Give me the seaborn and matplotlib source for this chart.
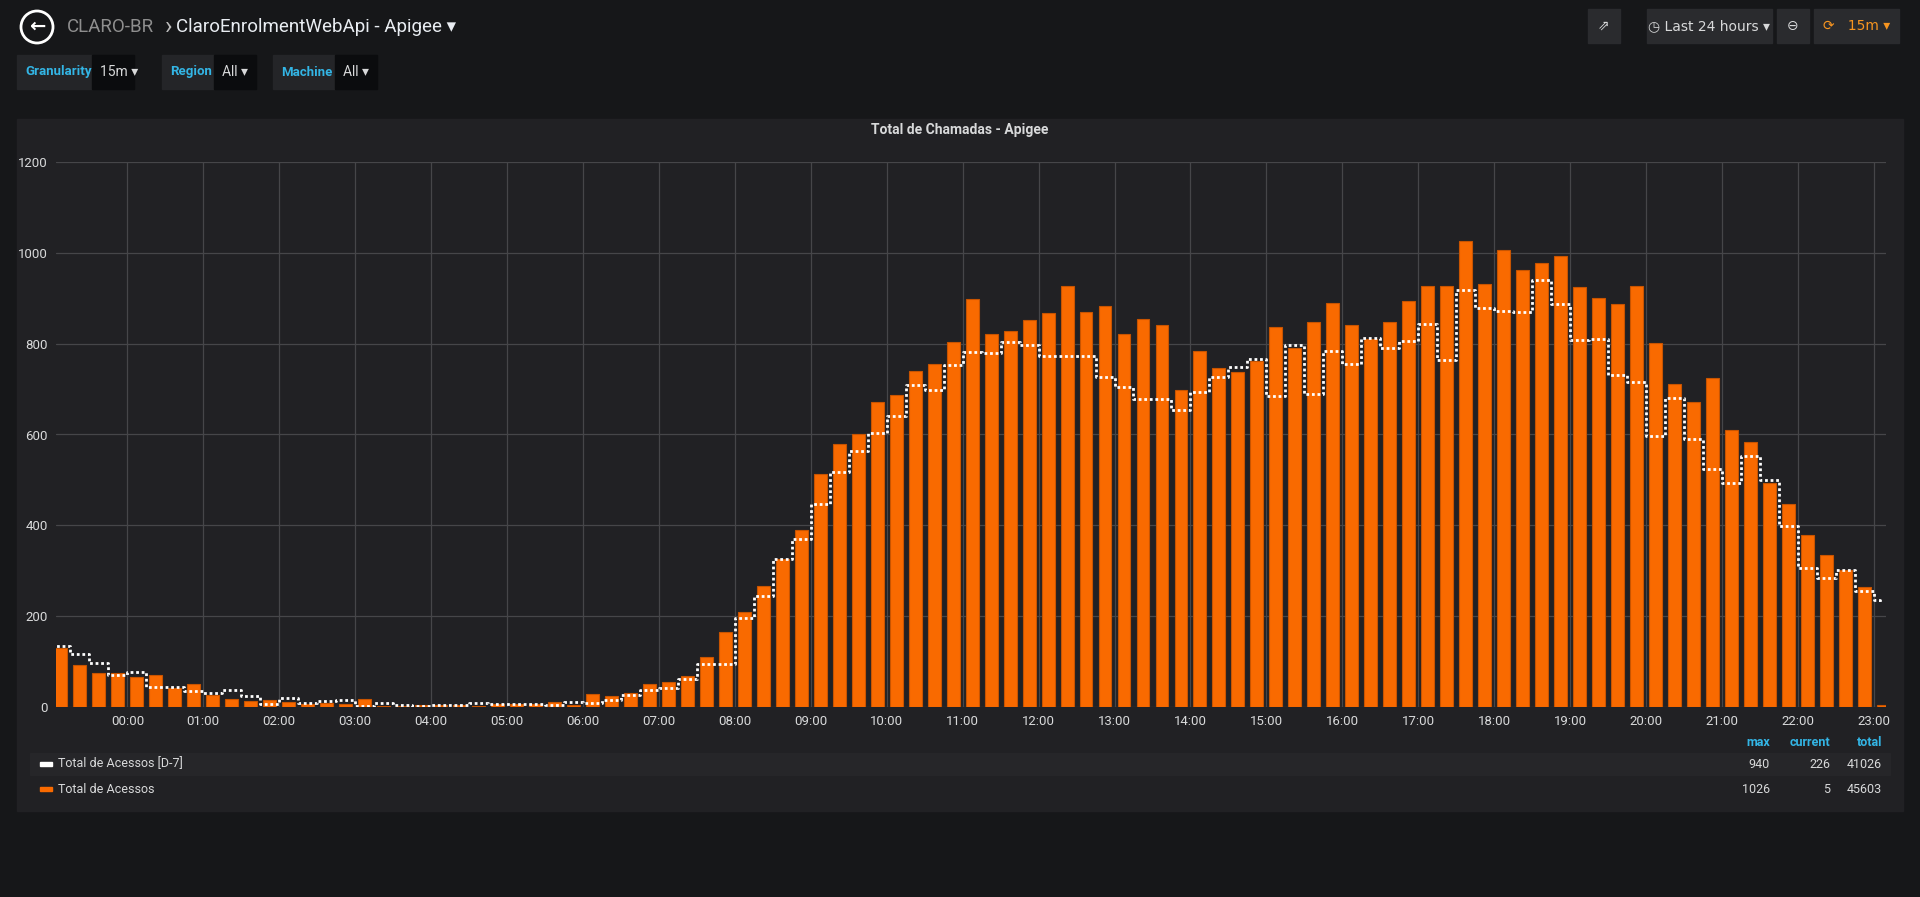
import numpy as np
import pandas as pd
import matplotlib.pyplot as plt
from matplotlib.patches import Ellipse
import seaborn as sns
import warnings
warnings.filterwarnings("ignore")

# ── Data (15-minute buckets, 23:00 of previous day → 23:00) ──
acessos = [129, 93, 75, 74,
           65, 70, 42, 51, 26, 18, 14, 15, 12, 7, 8, 7, 17, 2, 3, 4,
           4, 5, 3, 6, 6, 6, 10, 4, 29, 24, 30, 51, 55, 69, 110, 166,
           210, 267, 326, 390, 514, 580, 601, 672, 688, 739, 756, 803,
           899, 822, 827, 852, 867, 928, 870, 882, 822, 854, 841, 699,
           784, 746, 738, 761, 837, 791, 847, 889, 841, 811, 847, 895,
           927, 928, 1026, 932, 1007, 963, 977, 992, 925, 900, 887, 928,
           801, 712, 672, 725, 611, 584, 494, 448, 378, 334, 302, 264,
           5]
acessos_d7 = [135, 116, 96, 71,
              78, 44, 43, 35, 31, 37, 25, 6, 19, 9, 14, 15, 3, 9, 4, 3,
              5, 5, 9, 6, 7, 7, 4, 11, 9, 16, 27, 37, 41, 61, 94, 94,
              197, 244, 326, 371, 447, 518, 564, 603, 640, 708, 698, 754,
              782, 780, 804, 797, 773, 773, 773, 727, 704, 678, 678, 654,
              693, 727, 748, 767, 684, 798, 689, 784, 755, 813, 791, 806,
              843, 764, 918, 879, 872, 869, 940, 887, 808, 811, 730, 715,
              597, 680, 590, 525, 493, 552, 500, 398, 306, 284, 301, 256,
              236]
hour_ticks = list(range(0, 24))
hour_labels = [f"{h:02d}:00" for h in hour_ticks]
legend_rows = [("Total de Acessos [D-7]", "940", "226", "41026", "white"),
               ("Total de Acessos", "1026", "5", "45603", "#F96A00")]

hours = np.arange(len(acessos)) * 0.25 - 1.0  # bucket start in hours
df = pd.DataFrame({"hora": hours, "centro": hours + 0.125,
                   "acessos": acessos, "d7": acessos_d7})
df_line = pd.concat([df, pd.DataFrame({"hora": [23.08], "d7": [226]})])

# ── Style ──────────────────────────────────────────────────
sns.set_style("dark")
plt.rcParams['font.family'] = ['Roboto', 'DejaVu Sans']
BG = '#161719'
PANEL = '#212124'
TXT = '#d8d9da'

fig = plt.figure(figsize=(19.2, 8.97), dpi=100, facecolor=BG)

# panel background
fig.patches.append(plt.Rectangle((17/1920, 1-811/897), 1886/1920, 692/897,
                                 transform=fig.transFigure, color=PANEL, zorder=-5))

ax = fig.add_axes([56/1920, 1-707/897, 1830/1920, 545/897])
ax.set_facecolor(PANEL)
ax.set_zorder(5)

sns.barplot(data=df, x="centro", y="acessos", native_scale=True, width=0.68,
            color='#F96A00', saturation=1, edgecolor='#c85400', linewidth=0.8,
            ax=ax, zorder=3)
sns.lineplot(data=df_line, x="hora", y="d7", drawstyle='steps-post', color='white',
             linestyle=(0, (1, 1)), linewidth=2, ax=ax, zorder=4)

ax.set_xlim(-0.94, 23.16)
ax.set_ylim(0, 1200)
ax.set_xticks(hour_ticks)
ax.set_xticklabels(hour_labels)
ax.set_yticks(range(0, 1201, 200))
ax.tick_params(colors=TXT, labelsize=9.5, length=0, pad=6)
ax.grid(True, color='#464649', linewidth=0.9, zorder=0)
ax.set_axisbelow(True)
ax.set_xlabel('')
ax.set_ylabel('')
for s in ax.spines.values():
    s.set_visible(False)

# ── Header / dashboard chrome ─────────────────────────────
fig.text(0.5, 1-130/897, 'Total de Chamadas - Apigee', color=TXT, fontsize=10,
         fontweight='bold', ha='center', va='center')
fig.text(67/1920, 1-27/897, 'CLARO-BR', color='#8e8e8e', fontsize=13.5, va='center')
fig.text(165/1920, 1-27/897, '›', color='#bbbbbb', fontsize=18, va='center')
fig.text(176/1920, 1-27/897, 'ClaroEnrolmentWebApi - Apigee ▾', color='#e9edf2',
         fontsize=13.5, va='center')
fig.patches.append(Ellipse((37/1920, 1-27/897), 32/1920, 32/897, transform=fig.transFigure,
                           fill=False, edgecolor='white', linewidth=2))
fig.text(37/1920, 1-27/897, '←', color='white', fontsize=14, ha='center', va='center',
         fontweight='bold')

for x0, w, lab, val in [(17, 75, 'Granularity', '15m ▾'), (162, 52, 'Region', 'All ▾'),
                        (273, 62, 'Machine', 'All ▾')]:
    fig.patches.append(plt.Rectangle((x0/1920, 1-89/897), w/1920, 34/897,
                                     transform=fig.transFigure, color='#242528'))
    fig.patches.append(plt.Rectangle(((x0+w)/1920, 1-89/897), 42/1920, 34/897,
                                     transform=fig.transFigure, color='#0b0c0e'))
    fig.text((x0+8)/1920, 1-72/897, lab, color='#33b5e5', fontsize=9.5,
             fontweight='bold', va='center')
    fig.text((x0+w+8)/1920, 1-72/897, val, color=TXT, fontsize=10, va='center')

for x0, w, lab, col in [(1588, 32, '⇗', TXT), (1647, 125, '◷ Last 24 hours ▾', TXT),
                        (1777, 32, '⊖', TXT), (1814, 85, '⟳   15m ▾', '#f79520')]:
    fig.patches.append(plt.Rectangle((x0/1920, 1-43/897), w/1920, 34/897,
                                     transform=fig.transFigure, color='#2a2b2e'))
    fig.text((x0+w/2)/1920, 1-26/897, lab, color=col, fontsize=10, ha='center',
             va='center', family=['DejaVu Sans'])

# ── Legend table ──────────────────────────────────────────
for x, lab in [(1770, 'max'), (1830, 'current'), (1882, 'total')]:
    fig.text(x/1920, 1-742/897, lab, color='#33b5e5', fontsize=9, ha='right',
             va='center', fontweight='bold')
for i, (lab, mx, cur, tot, col) in enumerate(legend_rows):
    y = 764 + i*25
    if i == 0:
        fig.patches.append(plt.Rectangle((30/1920, 1-(y+11)/897), 1860/1920, 22/897,
                                         transform=fig.transFigure, color='#262629'))
    fig.patches.append(plt.Rectangle((40/1920, 1-(y+2)/897), 12/1920, 4/897,
                                     transform=fig.transFigure, color=col))
    fig.text(58/1920, 1-y/897, lab, color=TXT, fontsize=9, va='center')
    for x, v in [(1770, mx), (1830, cur), (1882, tot)]:
        fig.text(x/1920, 1-y/897, v, color=TXT, fontsize=9, ha='right', va='center')

plt.savefig('out.png', dpi=100, facecolor=BG)
plt.close()
